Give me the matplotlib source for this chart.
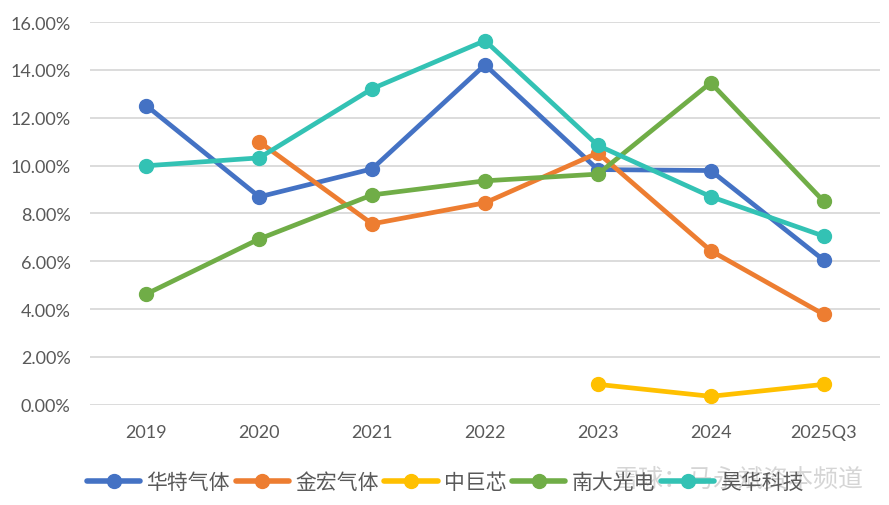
import matplotlib.pyplot as plt
from matplotlib.ticker import FuncFormatter

plt.rcParams['font.family'] = ['Lato', 'Noto Sans CJK SC', 'DejaVu Sans']

years = ['2019', '2020', '2021', '2022', '2023', '2024', '2025Q3']
names = ['华特气体', '金宏气体', '中巨芯', '南大光电', '昊华科技']
colors = ['#4472C4', '#ED7D31', '#FFC000', '#70AD47', '#33C2B4']

huate = [12.50, 8.69, 9.86, 14.21, 9.83, 9.79, 6.05]
jinhong = [None, 10.99, 7.56, 8.44, 10.53, 6.44, 3.78]
zhongjuxin = [None, None, None, None, 0.85, 0.35, 0.85]
nanda = [4.63, 6.93, 8.77, 9.36, 9.64, 13.46, 8.51]
haohua = [9.99, 10.32, 13.21, 15.22, 10.84, 8.70, 7.05]
series = [huate, jinhong, zhongjuxin, nanda, haohua]

fig = plt.figure(figsize=(8.89, 5.06), dpi=100)
ax = fig.add_axes([90/889, 1-405.7/506, 790/889, (405.7-23)/506])

x = list(range(len(years)))
for name, vals, c in zip(names, series, colors):
    xs = [i for i, v in zip(x, vals) if v is not None]
    ys = [v for v in vals if v is not None]
    ax.plot(xs, ys, color=c, lw=3.4, marker='o', ms=10, label=name,
            solid_capstyle='round', zorder=3)

ax.set_xlim(-0.5, len(years) - 0.5)
ax.set_ylim(0, 16)
ax.set_yticks(range(0, 17, 2))
ax.yaxis.set_major_formatter(FuncFormatter(lambda v, p: f'{v:.2f}%'))
ax.set_xticks(x)
ax.set_xticklabels(years)
ax.grid(axis='y', color='#D9D9D9', lw=1.3, zorder=0)
for s in ax.spines.values():
    s.set_visible(False)
ax.tick_params(length=0, labelsize=13, colors='#595959')
ax.tick_params(axis='x', pad=14)
ax.tick_params(axis='y', pad=14)

leg = fig.legend(loc='center left', bbox_to_anchor=(87/889, 1-483/506), ncol=5,
                 frameon=False, handlelength=2.55, handletextpad=0.3,
                 columnspacing=0.28, borderaxespad=0, borderpad=0,
                 prop={'family': 'Noto Sans CJK SC', 'size': 15, 'weight': 'light'})
for t in leg.get_texts():
    t.set_color('#595959')
for h in leg.legend_handles:
    h.set_linewidth(4)
    h.set_markersize(10)

fig.text(863/889, 1-480/506, '雪球：马永斌资本频道', ha='right', va='center',
         fontsize=18, color='#C8C8C8', alpha=0.75, family='Noto Sans CJK SC')

fig.savefig('out.png', dpi=100)
